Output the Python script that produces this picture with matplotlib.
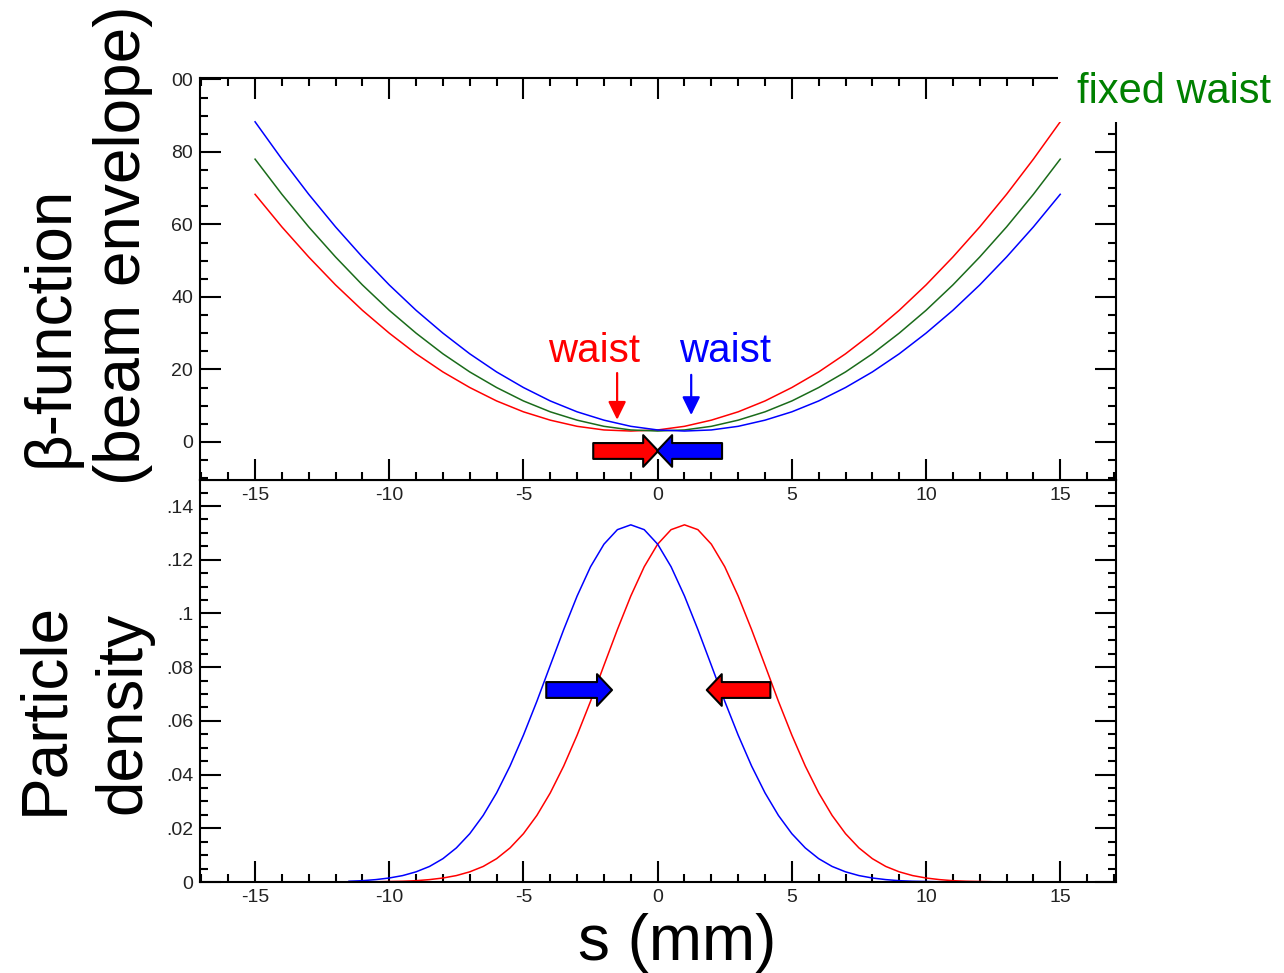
import numpy as np
import matplotlib.pyplot as plt
from matplotlib.ticker import MultipleLocator, FixedLocator, FixedFormatter
from matplotlib.patches import Rectangle

plt.rcParams['font.family'] = ['Liberation Sans', 'DejaVu Sans']

# beta-function (beam envelope), read at 1 mm steps
s_beta = np.arange(-15, 16)
beta_red = [68.3, 59.3, 51.0, 43.3, 36.3, 30.0, 24.3, 19.3, 15.0, 11.3, 8.3, 6.0, 4.3, 3.3, 3.0,
            3.3, 4.3, 6.0, 8.3, 11.3, 15.0, 19.3, 24.3, 30.0, 36.3, 43.3, 51.0, 59.3, 68.3, 78.0, 88.3]
beta_green = [78.0, 68.3, 59.3, 51.0, 43.3, 36.3, 30.0, 24.3, 19.3, 15.0, 11.3, 8.3, 6.0, 4.3, 3.3,
              3.0, 3.3, 4.3, 6.0, 8.3, 11.3, 15.0, 19.3, 24.3, 30.0, 36.3, 43.3, 51.0, 59.3, 68.3, 78.0]
beta_blue = [88.3, 78.0, 68.3, 59.3, 51.0, 43.3, 36.3, 30.0, 24.3, 19.3, 15.0, 11.3, 8.3, 6.0, 4.3,
             3.3, 3.0, 3.3, 4.3, 6.0, 8.3, 11.3, 15.0, 19.3, 24.3, 30.0, 36.3, 43.3, 51.0, 59.3, 68.3]

# particle density, read at 0.5 mm steps
s_dens_blue = np.arange(-11.5, 12.51, 0.5)
dens_blue = [0.0003, 0.0005, 0.0009, 0.0015, 0.0024, 0.0038, 0.0058, 0.0087, 0.0127, 0.0180,
             0.0248, 0.0332, 0.0432, 0.0547, 0.0673, 0.0807, 0.0940, 0.1065, 0.1174, 0.1258,
             0.1312, 0.1330, 0.1312, 0.1258, 0.1174, 0.1065, 0.0940, 0.0807, 0.0673, 0.0547,
             0.0432, 0.0332, 0.0248, 0.0180, 0.0127, 0.0087, 0.0058, 0.0038, 0.0024, 0.0015,
             0.0009, 0.0005, 0.0003, 0.0002, 0.0001, 0.0001, 0.0, 0.0, 0.0]
s_dens_red = np.arange(-15, 15.01, 0.5)
dens_red = [0.0, 0.0, 0.0, 0.0, 0.0, 0.0, 0.0, 0.0, 0.0,
            0.0001, 0.0002, 0.0003, 0.0005, 0.0009, 0.0015, 0.0024, 0.0038, 0.0058, 0.0087,
            0.0127, 0.0180, 0.0248, 0.0332, 0.0432, 0.0547, 0.0673, 0.0807, 0.0940, 0.1065,
            0.1174, 0.1258, 0.1312, 0.1330, 0.1312, 0.1258, 0.1174, 0.1065, 0.0940, 0.0807,
            0.0673, 0.0547, 0.0432, 0.0332, 0.0248, 0.0180, 0.0127, 0.0087, 0.0058, 0.0038,
            0.0024, 0.0015, 0.0009, 0.0005, 0.0003, 0.0002, 0.0001, 0.0, 0.0, 0.0, 0.0, 0.0]

x_ticks = [-15, -10, -5, 0, 5, 10, 15]
x_ticklabels = ['-15', '-10', '-5', '0', '5', '10', '15']
beta_ticks = [0, 20, 40, 60, 80, 100]
beta_ticklabels = ['0', '20', '40', '60', '80', '00']
dens_ticks = [0, 0.02, 0.04, 0.06, 0.08, 0.10, 0.12, 0.14]
dens_ticklabels = ['0', '.02', '.04', '.06', '.08', '.1', '.12', '.14']

RED, BLUE, GREEN = '#ff0000', '#0000ff', '#1a6b1a'

fig = plt.figure(figsize=(12.84, 9.73), dpi=100)
ax2 = fig.add_axes([0.1558, 0.0935, 0.7134, 0.4132])
ax1 = fig.add_axes([0.1558, 0.5067, 0.7134, 0.4132])


def style(ax, top=True):
    ax.set_xlim(-17.05, 17.08)
    ax.xaxis.set_major_locator(FixedLocator(x_ticks))
    ax.xaxis.set_major_formatter(FixedFormatter(x_ticklabels))
    ax.xaxis.set_minor_locator(MultipleLocator(1))
    ax.tick_params(which='both', direction='in', width=1.5, color='black',
                   top=top, right=True, bottom=True, left=True)
    ax.tick_params(which='major', length=15)
    ax.tick_params(which='minor', length=6)
    ax.tick_params(axis='y', pad=5, labelcolor='#222222')
    ax.tick_params(axis='x', pad=5, labelcolor='#222222')
    for lab in ax.get_xticklabels() + ax.get_yticklabels():
        lab.set_fontfamily('Liberation Sans')
        lab.set_fontsize(14)
    for sp in ax.spines.values():
        sp.set_linewidth(1.5)


# top panel: beta function
ax1.plot(s_beta, beta_red, color=RED, lw=1.1)
ax1.plot(s_beta, beta_green, color=GREEN, lw=1.1)
ax1.plot(s_beta, beta_blue, color=BLUE, lw=1.1)
ax1.set_ylim(-10.5, 100.4)
ax1.yaxis.set_major_locator(FixedLocator(beta_ticks))
ax1.yaxis.set_major_formatter(FixedFormatter(beta_ticklabels))
ax1.yaxis.set_minor_locator(MultipleLocator(5))
style(ax1)

ax1.text(-2.37, 22.1, 'waist', color=RED, fontsize=29, ha='center', va='baseline')
ax1.text(2.52, 22.1, 'waist', color=BLUE, fontsize=29, ha='center', va='baseline')
thin = '-|>,head_length=0.55,head_width=0.27'
ax1.annotate('', xy=(-1.51, 6.1), xytext=(-1.51, 19.0),
             arrowprops=dict(arrowstyle=thin, color=RED, lw=1.6, mutation_scale=20,
                             shrinkA=0, shrinkB=0))
ax1.annotate('', xy=(1.25, 7.4), xytext=(1.25, 18.5),
             arrowprops=dict(arrowstyle=thin, color=BLUE, lw=1.6, mutation_scale=20,
                             shrinkA=0, shrinkB=0))

block = 'simple,head_length=0.9,head_width=1.9,tail_width=0.95'
def block_arrow(ax, tail, tip, fc):
    ax.annotate('', xy=tip, xytext=tail, annotation_clip=False,
                arrowprops=dict(arrowstyle=block, mutation_scale=12, fc=fc, ec='black',
                                lw=1.5, shrinkA=0, shrinkB=0), zorder=5)

block_arrow(ax1, (-2.4, -2.5), (0.02, -2.5), RED)
block_arrow(ax1, (2.4, -2.5), (-0.02, -2.5), BLUE)

# bottom panel: particle density
ax2.plot(s_dens_red, dens_red, color=RED, lw=1.1)
ax2.plot(s_dens_blue, dens_blue, color=BLUE, lw=1.1)
ax2.set_ylim(0, 0.1497)
ax2.yaxis.set_major_locator(FixedLocator(dens_ticks))
ax2.yaxis.set_major_formatter(FixedFormatter(dens_ticklabels))
ax2.yaxis.set_minor_locator(MultipleLocator(0.005))
style(ax2, top=False)

block_arrow(ax2, (-4.15, 0.0715), (-1.7, 0.0715), BLUE)
block_arrow(ax2, (4.2, 0.0715), (1.83, 0.0715), RED)

# white patch behind "fixed waist"
fig.patches.append(Rectangle((1058 / 1284, (973 - 122) / 973), 230 / 1284, 70 / 973,
                             transform=fig.transFigure, facecolor='white',
                             edgecolor='none', zorder=10))
fig.text(1077 / 1284, (973 - 103) / 973, 'fixed waist', color='#008000', fontsize=30,
         ha='left', va='baseline', zorder=11)

# big axis labels
big = 46
fig.text(68 / 1284, (973 - 326) / 973, '\u03b2-function', rotation=90, fontsize=big,
         ha='center', va='baseline', rotation_mode='anchor')
fig.text(140 / 1284, (973 - 245) / 973, '(beam envelope)', rotation=90, fontsize=big,
         ha='center', va='baseline', rotation_mode='anchor')
fig.text(62 / 1284, (973 - 708) / 973, 'Particle', rotation=90, fontsize=big,
         ha='center', va='baseline', rotation_mode='anchor')
fig.text(140 / 1284, (973 - 713) / 973, 'density', rotation=90, fontsize=big,
         ha='center', va='baseline', rotation_mode='anchor')
fig.text(677 / 1284, (973 - 960) / 973, 's (mm)', fontsize=big, ha='center', va='baseline')

fig.savefig('out.png', dpi=100, facecolor='white')
